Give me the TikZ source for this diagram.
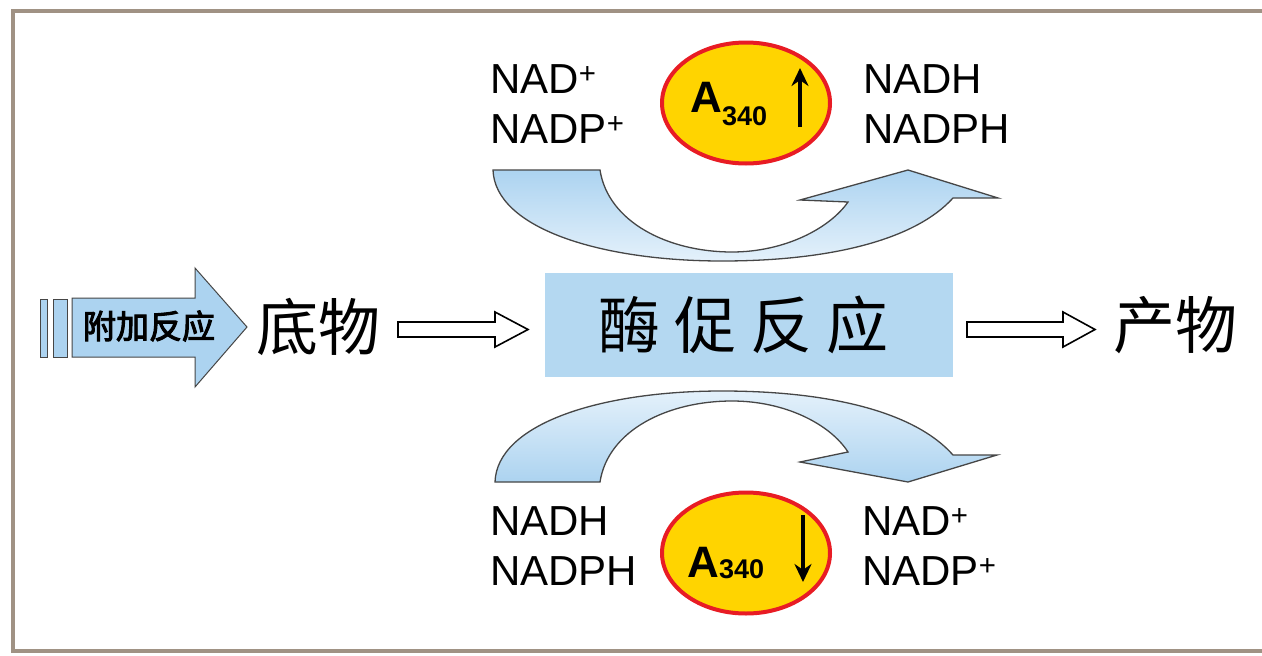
\documentclass[tikz,border=0pt]{standalone}
\usepackage{fontspec}
\setmainfont{Liberation Sans}
\newfontfamily\cjk{Noto Sans CJK SC}
\newfontfamily\cjkb[FakeBold=3]{Noto Sans CJK SC}
\usetikzlibrary{shapes.geometric,arrows.meta}
\definecolor{framec}{RGB}{160,146,132}
\definecolor{lblue}{RGB}{172,211,240}
\definecolor{pale}{RGB}{228,241,251}
\definecolor{boxblue}{RGB}{180,216,241}
\definecolor{gold}{RGB}{255,212,0}
\definecolor{ellred}{RGB}{232,28,36}
\definecolor{outl}{RGB}{70,70,70}
\tikzset{
  txt/.style={inner sep=0pt, anchor=base west, font=\fontsize{42}{50}\selectfont},
  bigcjk/.style={inner sep=0pt, font=\fontsize{62}{70}\selectfont\cjk},
  hollow/.style={draw=black, fill=white, line width=1.6pt, line join=miter},
  curved/.style={draw=outl, line width=1.3pt, line join=miter},
  absorb/.style={ellipse, draw=ellred, fill=gold, line width=4pt, minimum width=168, minimum height=121, inner sep=0pt},
  bigA/.style={inner sep=0pt, anchor=base west, font=\fontsize{44}{44}\selectfont\bfseries},
  subnum/.style={inner sep=0pt, anchor=base west, font=\fontsize{27}{27}\selectfont\bfseries},
  updown/.style={line width=4.5pt, -{Stealth[length=18pt,width=17pt]}},
}
\begin{document}
\begin{tikzpicture}[x=1pt,y=-1pt]
\useasboundingbox (0,0) rectangle (1262,656);
\fill[white] (0,0) rectangle (1262,656);
% frame
\draw[framec, line width=3.5pt] (1262,11) -- (13,11) -- (13,651) -- (1262,651);

% side arrow 附加反应
\path[fill=lblue, draw=outl, line width=1pt] (40,299) rectangle (47,357);
\path[fill=lblue, draw=outl, line width=1pt] (53,299) rectangle (67,357);
\path[fill=lblue, draw=outl, line width=1pt, line join=miter] (72,298) -- (195,298) -- (195,268) -- (247,327) -- (195,387) -- (195,357) -- (72,357) -- cycle;
\node[inner sep=0pt, font=\fontsize{33}{33}\selectfont\cjkb] (extra) at (149,326) {附加反应};

% substrate, enzyme reaction, product
\node[bigcjk] (substrate) at (318,327) {底物};
\node[fill=boxblue, minimum width=408, minimum height=104, inner sep=0pt] (box) at (749,325) {};
\node[bigcjk] (enzyme) at (743.5,325) {酶\hspace{14pt}促\hspace{14pt}反\hspace{14pt}应};
\node[bigcjk] (product) at (1175,325) {产物};

% hollow arrows
\path[hollow] (398,322) -- (495,322) -- (495,312) -- (528,329.5) -- (495,347) -- (495,337) -- (398,337) -- cycle;
\path[hollow] (967,322) -- (1063,322) -- (1063,312) -- (1095,329.5) -- (1063,347) -- (1063,337) -- (967,337) -- cycle;

% upper curved arrow
\path[curved, top color=lblue, bottom color=pale]
  (493,170) -- (600,170) .. controls (608,222) and (668,252) .. (732,252)
  .. controls (785,252) and (830,228) .. (848,202) -- (800,200) -- (908,170) -- (998,198) -- (953,198)
  .. controls (915,240) and (830,261) .. (722,261) .. controls (600,261) and (495,228) .. (493,170) -- cycle;
% lower curved arrow
\path[curved, top color=pale, bottom color=lblue]
  (495,482) -- (600,482) .. controls (608,430) and (668,401) .. (732,401)
  .. controls (785,401) and (830,424) .. (848,452) -- (800,462) -- (908,482) -- (997,455) -- (953,455)
  .. controls (915,412) and (830,391) .. (722,391) .. controls (600,391) and (497,424) .. (495,482) -- cycle;

% upper labels
\node[txt] (nadL) at (490,93) {NAD\textsuperscript{+}};
\node[txt] (nadpL) at (490,143) {NADP\textsuperscript{+}};
\node[txt] (nadhR) at (863,93) {NADH};
\node[txt] (nadphR) at (863,143) {NADPH};
\node[absorb] (ellUp) at (746,103) {};
\node[bigA] (aUp) at (690,112) {A};
\node[subnum] (nUp) at (722,125) {340};
\coordinate (upS) at (800,127);
\coordinate (upE) at (800,68);
\draw[updown] (upS) -- (upE);

% lower labels
\node[txt] (nadhL) at (490,535) {NADH};
\node[txt] (nadphL) at (490,585) {NADPH};
\node[txt] (nadR) at (862,535) {NAD\textsuperscript{+}};
\node[txt] (nadpR) at (862,585) {NADP\textsuperscript{+}};
\node[absorb] (ellDn) at (746,553) {};
\node[bigA] (aDn) at (687,577) {A};
\node[subnum] (nDn) at (719,578) {340};
\coordinate (dnS) at (803,515);
\coordinate (dnE) at (803,582);
\draw[updown] (dnS) -- (dnE);
\end{tikzpicture}
\end{document}
